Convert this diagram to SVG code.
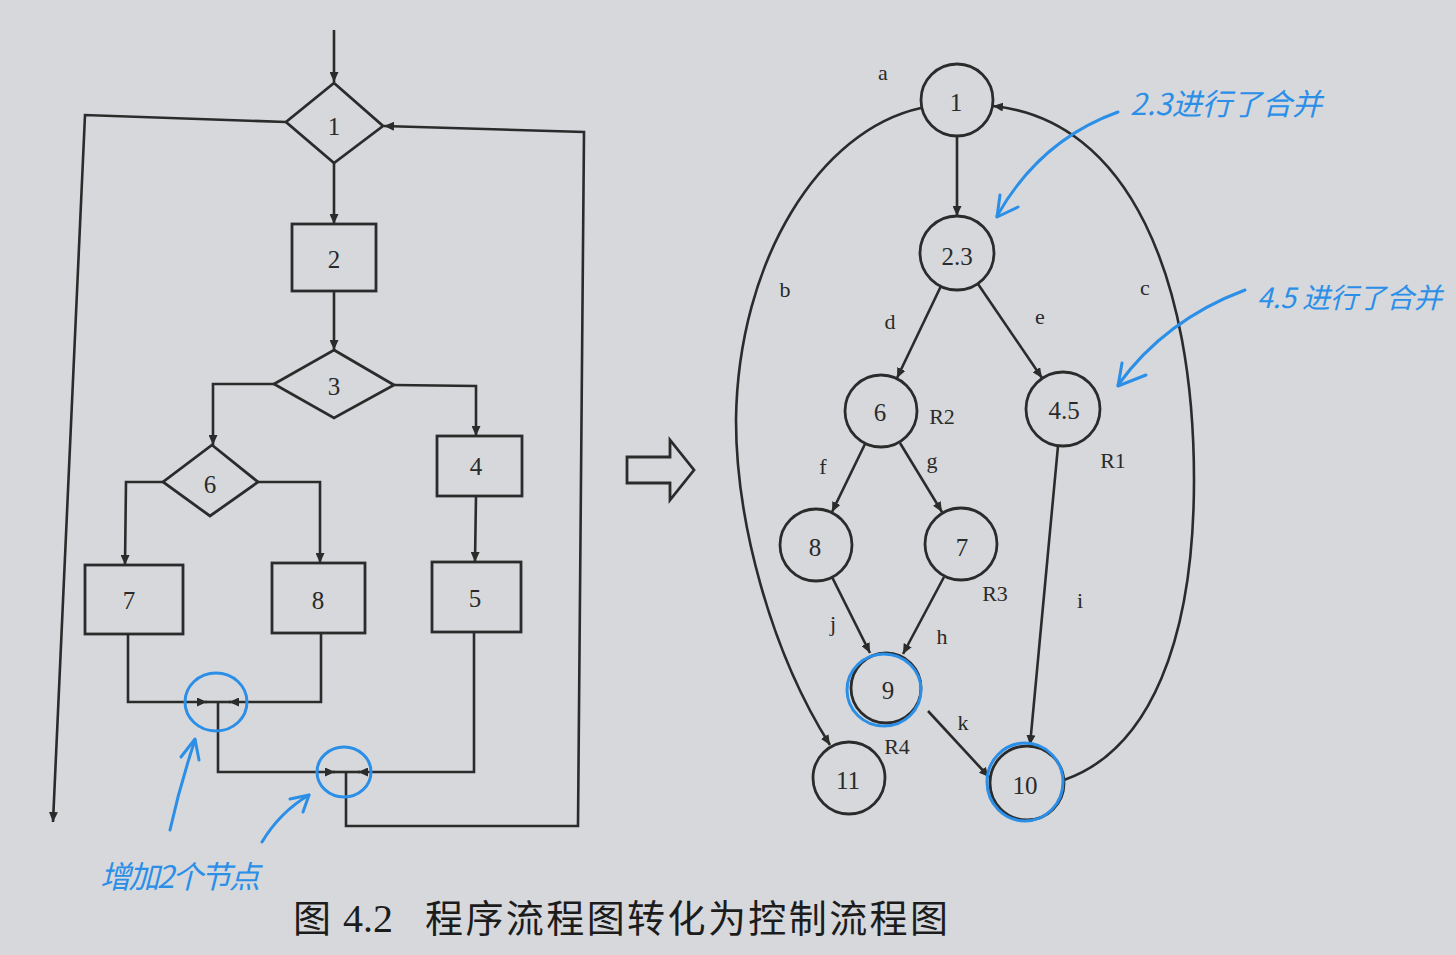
<svg xmlns="http://www.w3.org/2000/svg" width="1456" height="955" viewBox="0 0 1456 955">
<style>
.ln{fill:none;stroke:#2b2b2b;stroke-width:2.6}
.sh{fill:none;stroke:#2b2b2b;stroke-width:2.8}
.nt{font-family:"Liberation Serif",serif;font-size:25px;fill:#2a2a2a;text-anchor:middle;dominant-baseline:central}
.lb{font-family:"Liberation Serif",serif;font-size:22px;fill:#2a2a2a;text-anchor:middle;dominant-baseline:central}
.bl{fill:none;stroke:#2b8fe8;stroke-width:3;stroke-linecap:round;stroke-linejoin:round}
.bt{font-family:"Noto Sans CJK SC",sans-serif;fill:#2b8fe8;font-style:italic}
</style>
<defs>
<marker id="ah" markerUnits="userSpaceOnUse" markerWidth="11" markerHeight="9" refX="10" refY="4.5" orient="auto">
<path d="M0,0 L10,4.5 L0,9 Z" fill="#2b2b2b"/>
</marker>
</defs>
<rect width="1456" height="955" fill="#d6d8db"/>

<g id="connectors">
<path class="ln" d="M334,30 V82" marker-end="url(#ah)"/>
<path class="ln" d="M334,163 V224" marker-end="url(#ah)"/>
<path class="ln" d="M334,291 V350" marker-end="url(#ah)"/>
<path class="ln" d="M274,384 H213 V445" marker-end="url(#ah)"/>
<path class="ln" d="M394,385 L476,386 V436" marker-end="url(#ah)"/>
<path class="ln" d="M476,496 L475,562" marker-end="url(#ah)"/>
<path class="ln" d="M163,482 H126 L125,565" marker-end="url(#ah)"/>
<path class="ln" d="M258,482 H320 V563" marker-end="url(#ah)"/>
<path class="ln" d="M128,634 V702 H207" marker-end="url(#ah)"/>
<path class="ln" d="M321,633 V702 H229" marker-end="url(#ah)"/>
<path class="ln" d="M205,702 H231"/>
<path class="ln" d="M218,702 V772 H335" marker-end="url(#ah)"/>
<path class="ln" d="M474,632 V772 H358" marker-end="url(#ah)"/>
<path class="ln" d="M333,772 H360"/>
<path class="ln" d="M346,772 V826 H578 L584,132 L384,126" marker-end="url(#ah)"/>
<path class="ln" d="M286,122 L85,115 L53,822" marker-end="url(#ah)"/>

<path class="ln" d="M957,136 V216" marker-end="url(#ah)"/>
<path class="ln" d="M941,286 L897,378" marker-end="url(#ah)"/>
<path class="ln" d="M978,284 L1042,378" marker-end="url(#ah)"/>
<path class="ln" d="M865,444 L832,512" marker-end="url(#ah)"/>
<path class="ln" d="M900,443 L942,512" marker-end="url(#ah)"/>
<path class="ln" d="M832,577 L870,653" marker-end="url(#ah)"/>
<path class="ln" d="M944,577 L903,654" marker-end="url(#ah)"/>
<path class="ln" d="M928,711 L989,777" marker-end="url(#ah)"/>
<path class="ln" d="M1058,446 L1030,745" marker-end="url(#ah)"/>
<path class="ln" d="M921,108 C820,130 738,260 736,420 C736,520 770,650 830,745" marker-end="url(#ah)"/>
<path class="ln" d="M1064,780 C1150,750 1194,640 1194,480 C1194,280 1130,120 993,106" marker-end="url(#ah)"/>
</g>

<g id="n1"><path class="sh" d="M334,83 L383,126 L334,163 L286,122 Z"/><text class="nt" x="334" y="126">1</text></g>
<g id="n2"><rect class="sh" x="292" y="224" width="84" height="67"/><text class="nt" x="334" y="259">2</text></g>
<g id="n3"><path class="sh" d="M334,350 L394,385 L334,418 L274,384 Z"/><text class="nt" x="334" y="386">3</text></g>
<g id="n4"><rect class="sh" x="437" y="436" width="85" height="60"/><text class="nt" x="476" y="466">4</text></g>
<g id="n5"><rect class="sh" x="432" y="562" width="89" height="70"/><text class="nt" x="475" y="598">5</text></g>
<g id="n6"><path class="sh" d="M212,445 L258,482 L210,516 L163,482 Z"/><text class="nt" x="210" y="484">6</text></g>
<g id="n7"><rect class="sh" x="85" y="565" width="98" height="69"/><text class="nt" x="129" y="600">7</text></g>
<g id="n8"><rect class="sh" x="272" y="563" width="93" height="70"/><text class="nt" x="318" y="600">8</text></g>

<g id="bigarrow"><path class="sh" d="M627,457 H670 V440 L694,470 L670,500 V483 H627 Z"/></g>

<g id="c1"><circle class="sh" cx="957" cy="100" r="36"/><text class="nt" x="956" y="102">1</text></g>
<g id="c23"><circle class="sh" cx="957" cy="253" r="37"/><text class="nt" x="957" y="256">2.3</text></g>
<g id="c6"><circle class="sh" cx="881" cy="411" r="36"/><text class="nt" x="880" y="412">6</text></g>
<g id="c45"><circle class="sh" cx="1063" cy="409" r="37"/><text class="nt" x="1064" y="410">4.5</text></g>
<g id="c8"><circle class="sh" cx="816" cy="545" r="36"/><text class="nt" x="815" y="547">8</text></g>
<g id="c7"><circle class="sh" cx="961" cy="544" r="36"/><text class="nt" x="962" y="547">7</text></g>
<g id="c9"><circle class="sh" cx="886" cy="688" r="35"/><text class="nt" x="888" y="690">9</text></g>
<g id="c11"><circle class="sh" cx="849" cy="778" r="36"/><text class="nt" x="848" y="780">11</text></g>
<g id="c10"><circle class="sh" cx="1027" cy="783" r="37"/><text class="nt" x="1025" y="785">10</text></g>

<g id="labels">
<text class="lb" x="883" y="72">a</text>
<text class="lb" x="785" y="289">b</text>
<text class="lb" x="1145" y="287">c</text>
<text class="lb" x="890" y="321">d</text>
<text class="lb" x="1040" y="316">e</text>
<text class="lb" x="823" y="466">f</text>
<text class="lb" x="932" y="460">g</text>
<text class="lb" x="942" y="416">R2</text>
<text class="lb" x="1113" y="460">R1</text>
<text class="lb" x="833" y="623">j</text>
<text class="lb" x="942" y="636">h</text>
<text class="lb" x="1080" y="600">i</text>
<text class="lb" x="963" y="722">k</text>
<text class="lb" x="995" y="593">R3</text>
<text class="lb" x="897" y="746">R4</text>
</g>

<g id="annotations">
<ellipse class="bl" cx="216" cy="702" rx="31" ry="29"/>
<ellipse class="bl" cx="344" cy="772" rx="27" ry="25"/>
<path class="bl" d="M170,830 Q180,785 195,740"/>
<path class="bl" d="M181,757 L195,739 L199,760"/>
<path class="bl" d="M262,842 Q280,812 309,795"/>
<path class="bl" d="M290,799 L309,795 L303,812"/>
<text class="bt" x="100" y="888" font-size="31" textLength="160">增加2个节点</text>
<ellipse class="bl" cx="884" cy="690" rx="37" ry="36"/>
<ellipse class="bl" cx="1025" cy="782" rx="38" ry="39"/>
<path class="bl" d="M1118,112 Q1040,140 997,216"/>
<path class="bl" d="M1000,195 L997,217 L1018,207"/>
<text class="bt" x="1130" y="115" font-size="30" textLength="192">2.3进行了合并</text>
<path class="bl" d="M1245,290 Q1165,320 1118,385"/>
<path class="bl" d="M1122,363 L1118,386 L1146,375"/>
<text class="bt" x="1257" y="308" font-size="28" textLength="185">4.5 进行了合并</text>
</g>

<g id="caption">
<text font-family="Noto Sans CJK SC,sans-serif" font-size="38" fill="#1c1c1c" y="932">
<tspan x="293">图</tspan><tspan x="343" font-family="Liberation Serif,serif" font-size="40">4.2</tspan><tspan x="425" textLength="523">程序流程图转化为控制流程图</tspan>
</text>
</g>
</svg>
